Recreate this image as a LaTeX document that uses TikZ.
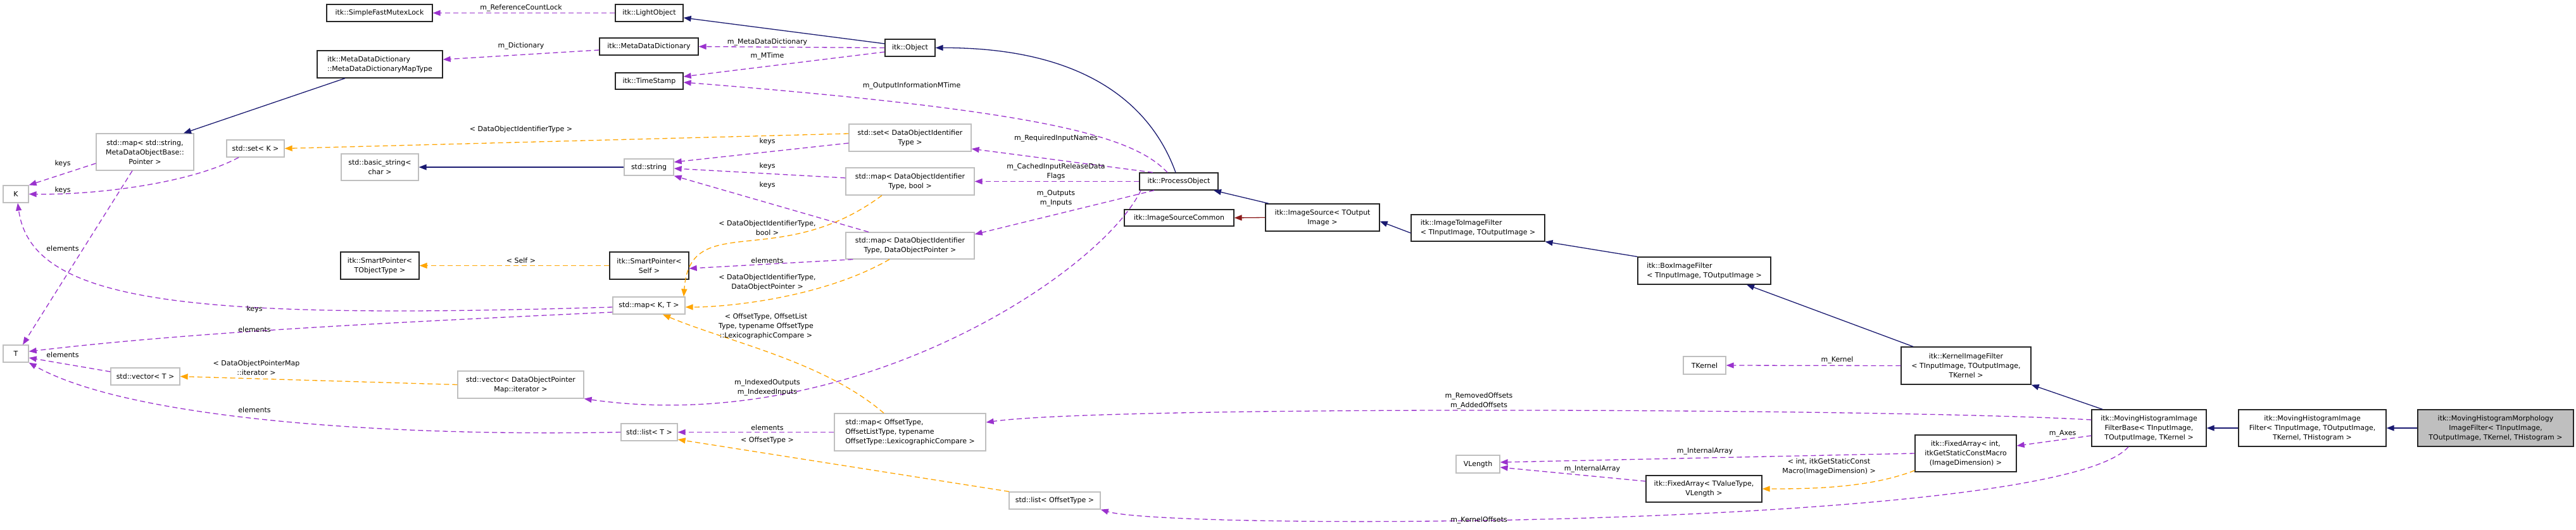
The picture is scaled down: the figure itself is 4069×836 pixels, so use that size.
\documentclass[tikz,border=0pt]{standalone}
\usepackage{fontspec}
\setmainfont{DejaVu Sans}
\usetikzlibrary{arrows.meta}
\definecolor{inh}{HTML}{191970}
\definecolor{use}{HTML}{9A32CD}
\definecolor{tpl}{HTML}{FFA500}
\definecolor{prv}{HTML}{8B1A1A}
\definecolor{gb}{HTML}{BFBFBF}
\newcommand\nd[7]{\node[#6, minimum width={(#4-#2)*1pt}, minimum height={(#5-#3)*1pt}] (#1) at ({(#2+#4)/2},{(#3+#5)/2}) {#7};}
\begin{document}
\begin{tikzpicture}[x=1pt,y=-1pt,
  every node/.style={font=\fontsize{11}{15}\selectfont},
  box/.style={draw, line width=1.3pt, inner sep=2pt, align=center, fill=white},
  blk/.style={box, draw=black!85},
  gry/.style={box, draw=gb},
  lbl/.style={inner sep=0pt, align=center},
  tip/.style={-{Triangle[length=12pt,width=9pt]}},
  inhe/.style={tip, draw=inh, line width=1.3pt},
  prve/.style={tip, draw=prv, line width=1.3pt},
  usee/.style={tip, draw=use, line width=1.3pt, dash pattern=on 8pt off 5pt},
  tple/.style={tip, draw=tpl, line width=1.3pt, dash pattern=on 8pt off 5pt}]
\useasboundingbox (0,0) rectangle (4069,836);
% nodes
\nd{sfml}{516}{7}{683}{34}{blk}{itk::SimpleFastMutexLock}
\nd{mddmap}{501}{80}{699}{123}{blk,align=left}{itk::MetaDataDictionary\\::MetaDataDictionaryMapType}
\nd{light}{972}{7}{1079}{34}{blk}{itk::LightObject}
\nd{mdd}{947}{60}{1103}{87}{blk}{itk::MetaDataDictionary}
\nd{ts}{972}{115}{1079}{141}{blk}{itk::TimeStamp}
\nd{obj}{1398}{62}{1477}{89}{blk}{itk::Object}
\nd{str}{986}{251}{1064}{277}{gry}{std::string}
\nd{bstr}{539}{243}{661}{285}{gry}{std::basic\_string<\\char >}
\nd{setk}{358}{221}{449}{248}{gry}{std::set< K >}
\nd{mapss}{152}{211}{306}{269}{gry}{std::map< std::string,\\MetaDataObjectBase::\\Pointer >}
\nd{K}{5}{293}{45}{320}{gry}{K}
\nd{T}{5}{545}{45}{572}{gry}{T}
\nd{vecT}{175}{581}{284}{608}{gry}{std::vector< T >}
\nd{spobj}{538}{398}{662}{441}{blk}{itk::SmartPointer<\\TObjectType >}
\nd{spself}{963}{398}{1088}{441}{blk}{itk::SmartPointer<\\Self >}
\nd{mapkt}{968}{469}{1082}{496}{gry}{std::map< K, T >}
\nd{vecit}{723}{586}{922}{629}{gry}{std::vector< DataObjectPointer\\Map::iterator >}
\nd{listT}{981}{669}{1070}{696}{gry}{std::list< T >}
\nd{mapoff}{1318}{653}{1557}{712}{gry,align=left}{std::map< OffsetType,\\OffsetListType, typename\\OffsetType::LexicographicCompare >}
\nd{setid}{1341}{196}{1534}{239}{gry}{std::set< DataObjectIdentifier\\Type >}
\nd{mapbool}{1336}{265}{1539}{308}{gry}{std::map< DataObjectIdentifier\\Type, bool >}
\nd{mapdop}{1336}{367}{1539}{409}{gry}{std::map< DataObjectIdentifier\\Type, DataObjectPointer >}
\nd{po}{1800}{273}{1924}{300}{blk}{itk::ProcessObject}
\nd{isc}{1776}{331}{1949}{357}{blk}{itk::ImageSourceCommon}
\nd{is}{1999}{322}{2179}{365}{blk}{itk::ImageSource< TOutput\\Image >}
\nd{i2i}{2229}{339}{2440}{381}{blk,align=left}{itk::ImageToImageFilter\\< TInputImage, TOutputImage >}
\nd{box}{2587}{406}{2797}{449}{blk,align=left}{itk::BoxImageFilter\\< TInputImage, TOutputImage >}
\nd{tk}{2659}{563}{2726}{591}{gry}{TKernel}
\nd{kif}{3003}{548}{3208}{607}{blk}{itk::KernelImageFilter\\< TInputImage, TOutputImage,\\TKernel >}
\nd{mhb}{3304}{647}{3485}{705}{blk}{itk::MovingHistogramImage\\FilterBase< TInputImage,\\TOutputImage, TKernel >}
\nd{fai}{3025}{687}{3185}{745}{blk}{itk::FixedArray< int,\\itkGetStaticConstMacro\\(ImageDimension) >}
\nd{vl}{2300}{719}{2369}{747}{gry}{VLength}
\nd{fav}{2600}{751}{2783}{793}{blk}{itk::FixedArray< TValueType,\\VLength >}
\nd{listoff}{1594}{777}{1738}{804}{gry}{std::list< OffsetType >}
\nd{mhif}{3536}{647}{3769}{705}{blk}{itk::MovingHistogramImage\\Filter< TInputImage, TOutputImage,\\TKernel, THistogram >}
\nd{mhm}{3819}{647}{4065}{705}{blk,fill=gb}{itk::MovingHistogramMorphology\\ImageFilter< TInputImage,\\TOutputImage, TKernel, THistogram >}
% inheritance
\draw[inhe] ([xshift=-55pt]mddmap.south) -- ([xshift=61pt]mapss.north);
\draw[inhe] ([yshift=6.5pt]obj.west) -- ([yshift=-7.5pt]light.east);
\draw[inhe] ([xshift=-5pt]po.north) .. controls (1820,170) and (1720,75) .. (obj.east);
\draw[inhe] (str.west) -- (bstr.east);
\draw[inhe] ([xshift=-85pt]is.north) -- ([xshift=55pt]po.south);
\draw[prve] (is.west) -- (isc.east);
\draw[inhe] ([yshift=-8pt]i2i.west) -- ([yshift=-6pt]is.east);
\draw[inhe] (box.north west) -- (i2i.south east);
\draw[inhe] ([xshift=-83.5pt]kif.north) -- ([xshift=67pt]box.south);
\draw[inhe] ([xshift=-73.5pt]mhb.north) -- (kif.south east);
\draw[inhe] (mhif.west) -- (mhb.east);
\draw[inhe] (mhm.west) -- (mhif.east);
% usage
\draw[usee] (light.west) -- (sfml.east);
\draw[usee] ([yshift=-5.5pt]mdd.west) -- ([yshift=7.5pt]mddmap.east);
\draw[usee] (obj.west) -- (mdd.east);
\draw[usee] ([yshift=-6.5pt]obj.west) -- ([yshift=7pt]ts.east);
\draw[usee] ([xshift=-18pt]po.north) .. controls (1790,215) and (1650,175) .. ([yshift=-2pt]ts.east);
\draw[usee] ([yshift=-8.5pt]setid.west) -- ([yshift=8pt]str.east);
\draw[usee] ([yshift=5.5pt]mapbool.west) -- ([yshift=-2pt]str.east);
\draw[usee] ([xshift=-65.5pt]mapdop.north) -- (str.south east);
\draw[usee] ([xshift=-41pt]po.north) -- ([yshift=-17.5pt]setid.east);
\draw[usee] (po.west) -- (mapbool.east);
\draw[usee] ([xshift=-39pt]po.south) -- ([yshift=18pt]mapdop.east);
\draw[usee] ([xshift=-60pt]po.south) .. controls (1740,430) and (1350,690) .. (vecit.south east);
\draw[usee] ([xshift=12pt]mapdop.south west) -- ([yshift=-4.5pt]spself.east);
\draw[usee] ([yshift=-18pt]mapss.west) -- (K.north east);
\draw[usee] ([xshift=-26.5pt]setk.south) .. controls (300,290) and (150,308) .. (K.east);
\draw[usee] ([xshift=-20pt]mapss.south) -- ([xshift=11pt]T.north);
\draw[usee] ([yshift=-2.5pt]mapkt.west) .. controls (300,505) and (50,480) .. ([xshift=3pt]K.south);
\draw[usee] ([yshift=-10.5pt]mapkt.west) .. controls (600,510) and (300,525) .. ([yshift=3.5pt]T.east);
\draw[usee] ([yshift=7.5pt]vecT.west) -- ([yshift=-6.5pt]T.east);
\draw[usee] (listT.west) .. controls (600,690) and (200,660) .. (T.south east);
\draw[usee] (mapoff.west) -- (listT.east);
\draw[usee] ([yshift=13pt]mhb.west) .. controls (3000,645) and (1750,640) .. ([yshift=15.5pt]mapoff.east);
\draw[usee] (kif.west) -- (tk.east);
\draw[usee] ([yshift=-12pt]mhb.west) -- ([yshift=12pt]fai.east);
\draw[usee] (fai.west) -- ([yshift=3pt]vl.east);
\draw[usee] ([yshift=12pt]fav.west) -- ([yshift=-5pt]vl.east);
\draw[usee] ([xshift=-32.5pt]mhb.south) .. controls (3250,835) and (1850,838) .. (listoff.south east);
% templates
\draw[tple] ([yshift=6.5pt]setid.west) -- (setk.east);
\draw[tple] (spself.west) -- (spobj.east);
\draw[tple] ([xshift=-44.5pt]mapbool.south) .. controls (1230,430) and (1090,330) .. ([xshift=55pt]mapkt.north);
\draw[tple] ([xshift=-32.5pt]mapdop.south) .. controls (1300,470) and (1150,485) .. ([yshift=-2.5pt]mapkt.east);
\draw[tple] ([xshift=-41.5pt]mapoff.north) .. controls (1300,570) and (1150,540) .. ([xshift=22pt]mapkt.south);
\draw[tple] (vecit.west) -- (vecT.east);
\draw[tple] ([yshift=-27pt]fai.west) .. controls (2950,772) and (2850,772) .. (fav.east);
\draw[tple] ([xshift=-72pt]listoff.north) -- ([yshift=-11.5pt]listT.east);
% labels
\node[lbl] (l1) at (823,13) {m\_ReferenceCountLock};
\node[lbl] (l2) at (823,73) {m\_Dictionary};
\node[lbl] (l3) at (1212,67) {m\_MetaDataDictionary};
\node[lbl] (l4) at (1212,89) {m\_MTime};
\node[lbl] (l5) at (1440,136) {m\_OutputInformationMTime};
\node[lbl] (l6) at (823,204) {< DataObjectIdentifierType >};
\node[lbl] (l7) at (1212,223) {keys};
\node[lbl] (l8) at (1212,262) {keys};
\node[lbl] (l9) at (1212,292) {keys};
\node[lbl] (l10) at (1668,219) {m\_RequiredInputNames};
\node[lbl] (l11) at (1668,271) {m\_CachedInputReleaseData\\Flags};
\node[lbl] (l12) at (1668,313) {m\_Outputs\\m\_Inputs};
\node[lbl] (l13) at (1212,360) {< DataObjectIdentifierType,\\bool >};
\node[lbl] (l14) at (1212,411) {elements};
\node[lbl] (l15) at (1212,446) {< DataObjectIdentifierType,\\DataObjectPointer >};
\node[lbl] (l16) at (1210,515) {< OffsetType, OffsetList\\Type, typename OffsetType\\::LexicographicCompare >};
\node[lbl] (l17) at (823,411) {< Self >};
\node[lbl] (l18) at (99,258) {keys};
\node[lbl] (l19) at (99,300) {keys};
\node[lbl] (l20) at (99,392) {elements};
\node[lbl] (l21) at (402,488) {keys};
\node[lbl] (l22) at (402,520) {elements};
\node[lbl] (l23) at (99,560) {elements};
\node[lbl] (l24) at (402,647) {elements};
\node[lbl] (l25) at (405,581) {< DataObjectPointerMap\\::iterator >};
\node[lbl] (l26) at (1212,612) {m\_IndexedOutputs\\m\_IndexedInputs};
\node[lbl] (l27) at (1212,675) {elements};
\node[lbl] (l28) at (1212,695) {< OffsetType >};
\node[lbl] (l29) at (2336,633) {m\_RemovedOffsets\\m\_AddedOffsets};
\node[lbl] (l30) at (2902,569) {m\_Kernel};
\node[lbl] (l31) at (3258,685) {m\_Axes};
\node[lbl] (l32) at (2693,713) {m\_InternalArray};
\node[lbl] (l33) at (2515,741) {m\_InternalArray};
\node[lbl] (l34) at (2889,737) {< int, itkGetStaticConst\\Macro(ImageDimension) >};
\node[lbl] (l35) at (2336,822) {m\_KernelOffsets};
\end{tikzpicture}
\end{document}
